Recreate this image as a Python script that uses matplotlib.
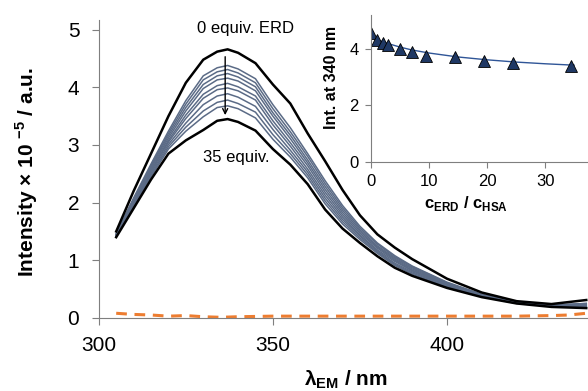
import numpy as np
import matplotlib.pyplot as plt

plt.rcParams['font.family'] = ['Liberation Sans', 'DejaVu Sans']
plt.rcParams['mathtext.fontset'] = 'custom'
plt.rcParams['mathtext.rm'] = 'Liberation Sans'
plt.rcParams['mathtext.bf'] = 'Liberation Sans:bold'

# emission wavelength grid (nm)
wl = [305, 310, 315, 320, 325, 330, 334, 337, 340, 345, 350, 355,
      360, 365, 370, 375, 380, 385, 390, 400, 410, 420, 430, 440]

# 0 equiv. ERD
spec_0 = [1.50, 2.20, 2.85, 3.50, 4.08, 4.48, 4.62, 4.66, 4.60, 4.42, 4.05, 3.72,
          3.20, 2.72, 2.22, 1.78, 1.45, 1.22, 1.02, 0.68, 0.44, 0.29, 0.24, 0.31]
# intermediate titration steps
spec_mid = [
    [1.46, 2.08, 2.67, 3.24, 3.77, 4.20, 4.34, 4.38, 4.32, 4.15, 3.70, 3.30,
     2.85, 2.38, 1.95, 1.59, 1.30, 1.08, 0.90, 0.62, 0.41, 0.27, 0.22, 0.25],
    [1.45, 2.06, 2.64, 3.20, 3.71, 4.13, 4.27, 4.31, 4.25, 4.08, 3.63, 3.23,
     2.80, 2.33, 1.91, 1.56, 1.28, 1.06, 0.89, 0.61, 0.40, 0.27, 0.22, 0.25],
    [1.45, 2.04, 2.62, 3.16, 3.65, 4.05, 4.20, 4.24, 4.18, 4.01, 3.56, 3.17,
     2.74, 2.28, 1.87, 1.53, 1.25, 1.04, 0.87, 0.60, 0.40, 0.27, 0.21, 0.24],
    [1.44, 2.03, 2.59, 3.12, 3.59, 3.98, 4.13, 4.16, 4.11, 3.94, 3.50, 3.11,
     2.69, 2.23, 1.83, 1.50, 1.23, 1.02, 0.85, 0.59, 0.39, 0.27, 0.21, 0.23],
    [1.44, 2.01, 2.56, 3.08, 3.52, 3.88, 4.03, 4.07, 4.01, 3.85, 3.42, 3.04,
     2.64, 2.18, 1.79, 1.47, 1.21, 1.00, 0.83, 0.58, 0.39, 0.26, 0.21, 0.22],
    [1.43, 1.99, 2.54, 3.05, 3.46, 3.81, 3.96, 3.99, 3.94, 3.78, 3.35, 2.98,
     2.58, 2.13, 1.75, 1.44, 1.18, 0.98, 0.82, 0.57, 0.38, 0.26, 0.20, 0.21],
    [1.42, 1.97, 2.51, 3.01, 3.38, 3.70, 3.85, 3.89, 3.83, 3.67, 3.27, 2.91,
     2.53, 2.08, 1.71, 1.42, 1.16, 0.95, 0.80, 0.56, 0.38, 0.26, 0.20, 0.20],
    [1.42, 1.95, 2.48, 2.97, 3.31, 3.59, 3.74, 3.78, 3.72, 3.57, 3.18, 2.85,
     2.48, 2.03, 1.67, 1.39, 1.14, 0.93, 0.78, 0.55, 0.37, 0.26, 0.20, 0.20],
    [1.41, 1.94, 2.45, 2.93, 3.24, 3.49, 3.65, 3.68, 3.63, 3.47, 3.10, 2.79,
     2.43, 1.98, 1.63, 1.36, 1.12, 0.91, 0.76, 0.54, 0.37, 0.25, 0.20, 0.19],
]
# 35 equiv. ERD
spec_35 = [1.40, 1.90, 2.40, 2.85, 3.08, 3.26, 3.42, 3.45, 3.40, 3.25, 2.93, 2.66,
           2.32, 1.88, 1.55, 1.30, 1.07, 0.87, 0.73, 0.52, 0.36, 0.25, 0.19, 0.17]

# ERD alone (dashed)
wl_blank = [305, 310, 315, 320, 325, 330, 335, 340, 350, 360, 380, 400, 420, 430, 435, 440]
blank = [0.08, 0.06, 0.05, 0.03, 0.04, 0.02, 0.01, 0.02, 0.03, 0.03, 0.03, 0.03, 0.03, 0.04, 0.05, 0.08]

# inset: intensity at 340 nm vs ratio
ratio = [0, 1, 2, 3, 5, 7, 9.5, 14.5, 19.5, 24.5, 34.5]
int340 = [4.56, 4.30, 4.21, 4.12, 4.00, 3.88, 3.76, 3.70, 3.58, 3.50, 3.38]
fit_x = [0, 1, 2, 3, 5, 7, 10, 15, 20, 25, 30, 35]
fit_y = [4.42, 4.33, 4.25, 4.18, 4.06, 3.96, 3.85, 3.71, 3.61, 3.53, 3.47, 3.42]

W, H = 588, 391
fig = plt.figure(figsize=(5.88, 3.91), dpi=100)
ax = fig.add_axes([0.168, 0.187, 0.832, 0.762])

ax.plot(wl_blank, blank, color='#ED7D31', lw=2.2, ls=(0, (3.5, 2.5)))
for s in spec_mid:
    ax.plot(wl, s, color='#5b6b86', lw=1.1)
ax.plot(wl, spec_0, color='black', lw=1.8)
ax.plot(wl, spec_35, color='black', lw=1.8)

ax.annotate('', xy=(336.3, 3.47), xytext=(336.3, 4.58),
            arrowprops=dict(arrowstyle='->', color='black', lw=1.0, mutation_scale=9))
ax.text(342, 5.03, '0 equiv. ERD', fontsize=12, ha='center', va='center')
ax.text(339.5, 2.78, '35 equiv.', fontsize=12, ha='center', va='center')

ax.set_xlim(300, 440.5)
ax.set_ylim(0, 5.17)
ax.set_xticks([300, 350, 400])
ax.set_yticks([0, 1, 2, 3, 4, 5])
for sp in ['top', 'right']:
    ax.spines[sp].set_visible(False)
for sp in ['left', 'bottom']:
    ax.spines[sp].set_color('#7f7f7f')
ax.tick_params(labelsize=15, length=5, color='#7f7f7f')
ax.tick_params(axis='x', pad=8)
ax.tick_params(axis='y', pad=9)
fig.text(346 / W, 1 - 380 / H, 'λ$_{\\mathbf{EM}}$ / nm', fontsize=15, fontweight='bold',
         ha='center', va='center')
fig.text(27 / W, 1 - 172 / H, 'Intensity × 10 $^{\\mathbf{-5}}$ / a.u.', fontsize=15,
         fontweight='bold', ha='center', va='center', rotation=90)

ins = fig.add_axes([0.631, 0.586, 0.369, 0.376])
ins.plot(fit_x, fit_y, color='#2F5597', lw=1.0)
ins.plot(ratio, int340, ls='none', marker='^', ms=8, color='#1F3864', mec='black', mew=0.6)
ins.set_xlim(0, 37.4)
ins.set_ylim(0, 5.2)
ins.set_xticks([0, 10, 20, 30])
ins.set_yticks([0, 2, 4])
for sp in ['top', 'right']:
    ins.spines[sp].set_visible(False)
for sp in ['left', 'bottom']:
    ins.spines[sp].set_color('#7f7f7f')
ins.tick_params(labelsize=12, length=4, color='#7f7f7f', pad=5)
fig.text(466 / W, 1 - 203 / H, 'c$_{\\mathbf{ERD}}$ / c$_{\\mathbf{HSA}}$', fontsize=12,
         fontweight='bold', ha='center', va='center')
fig.text(331 / W, 1 - 77 / H, 'Int. at 340 nm', fontsize=11.5, fontweight='bold',
         ha='center', va='center', rotation=90)
ins.patch.set_alpha(0)

fig.savefig('out.png', dpi=100)
